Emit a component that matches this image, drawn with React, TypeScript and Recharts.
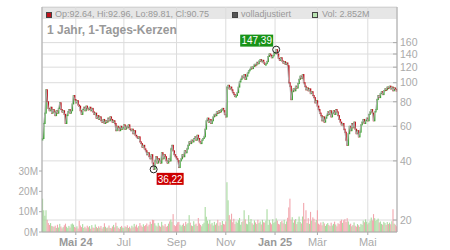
import { ComposedChart, Bar, Line, XAxis, YAxis, CartesianGrid, ReferenceDot } from "recharts";

// daily closes (EUR)
const closes = [
  52, 62, 70, 92, 80, 74, 72, 75, 70, 73,
  71, 68, 72, 70, 74, 79, 73, 71, 72, 69,
  62, 68, 71, 73, 70, 72, 78, 86, 82, 79,
  81, 77, 76, 72, 69, 73, 75, 72, 76, 74,
  73, 75, 72, 74, 71, 69, 70, 66, 68, 65,
  67, 64, 63, 65, 62, 64, 63, 66, 64, 67,
  65, 63, 64, 62, 57, 60, 59, 57, 60, 58,
  59, 61, 58, 60, 59, 61, 58, 57, 58, 55,
  57, 54, 53, 52, 53, 50, 49, 47, 48, 46,
  45, 43, 44, 42, 41, 43, 39, 36.22, 40, 42,
  39, 41, 40, 39, 44, 41, 43, 42, 40, 39,
  41, 40, 46, 48, 45, 43, 42, 41, 40, 37,
  40, 41, 43, 42, 45, 44, 46, 48, 50, 49,
  51, 50, 52, 53, 51, 54, 52, 50, 49, 51,
  52, 53, 58, 64, 66, 63, 65, 62, 64, 67,
  69, 68, 71, 70, 72, 71, 73, 74, 72, 69,
  67, 95, 97, 93, 95, 92, 89, 87, 85, 86,
  89, 95, 101, 104, 108, 106, 110, 104, 108, 112,
  115, 117, 120, 118, 121, 124, 123, 127, 125, 129,
  131, 128, 130, 126, 124, 125, 128, 136, 140, 138,
  134, 137, 141, 143, 147.39, 140, 133, 130, 134, 129,
  126, 128, 124, 126, 122, 100, 96, 82, 90, 93,
  91, 96, 94, 99, 104, 108, 105, 110, 100, 96,
  92, 94, 91, 93, 88, 90, 86, 84, 79, 81,
  76, 73, 70, 68, 64, 67, 63, 66, 68, 71,
  69, 72, 67, 70, 72, 69, 73, 71, 68, 65,
  63, 61, 62, 58, 56, 51, 48, 55, 60, 57,
  62, 59, 63, 58, 55, 57, 53, 56, 61, 63,
  65, 62, 64, 66, 64, 69, 71, 73, 70, 64,
  71, 73, 82, 86, 84, 88, 90, 87, 91, 93,
  92, 95, 94, 96, 93, 95, 91, 94, 92.64, 90.75,
];

// daily volume in millions
const volumes = [
  16.4, 10.7, 8.0, 10.7, 6.0, 4.4, 3.5, 4.4, 3.0, 2.8,
  2.5, 3.1, 2.0, 3.6, 2.2, 4.0, 2.7, 1.8, 2.4, 3.3,
  4.1, 2.6, 1.9, 3.0, 2.2, 3.8, 4.2, 3.6, 2.5, 2.1,
  2.8, 1.7, 5.5, 3.2, 2.4, 3.9, 2.0, 2.6, 1.8, 3.1,
  2.3, 2.9, 1.6, 3.4, 2.2, 2.0, 3.7, 2.5, 1.9, 2.8,
  2.1, 3.0, 1.7, 2.4, 4.3, 2.6, 1.9, 2.2, 3.2, 2.0,
  1.8, 2.7, 3.5, 2.3, 4.6, 2.9, 2.1, 1.6, 2.5, 3.0,
  2.2, 1.9, 2.8, 2.4, 3.3, 2.0, 2.6, 1.8, 3.1, 2.3,
  4.0, 2.7, 3.6, 2.2, 2.9, 4.4, 3.2, 2.5, 3.8, 2.9,
  3.4, 4.2, 2.8, 3.6, 5.1, 4.0, 6.0, 5.9, 4.3, 3.2,
  2.7, 4.5, 3.1, 2.6, 5.0, 3.3, 2.8, 3.9, 2.5, 3.0,
  4.1, 5.2, 6.1, 5.0, 8.8, 3.4, 2.9, 3.7, 4.8, 5.0,
  3.6, 2.8, 3.5, 4.2, 3.0, 5.0, 3.8, 4.4, 8.3, 4.6,
  3.2, 2.9, 5.3, 3.6, 4.1, 3.0, 6.9, 4.2, 3.5, 2.8,
  3.9, 4.6, 12.3, 7.5, 5.6, 4.1, 5.9, 3.8, 4.5, 3.2,
  5.0, 3.6, 4.3, 6.0, 3.1, 4.8, 3.4, 5.4, 4.0, 3.7,
  5.2, 24.5, 15.6, 8.3, 6.1, 9.0, 4.8, 6.5, 3.9, 5.2,
  4.5, 5.8, 6.9, 3.6, 4.9, 5.3, 10.7, 6.2, 4.1, 3.8,
  8.3, 5.0, 6.4, 4.3, 3.6, 5.7, 4.7, 3.9, 6.0, 4.4,
  5.2, 3.7, 6.0, 4.8, 4.6, 5.6, 11.2, 3.5, 5.9, 4.6,
  3.8, 6.3, 4.5, 5.1, 6.7, 5.6, 4.0, 3.7, 4.9, 5.5,
  4.3, 6.0, 3.9, 5.2, 7.0, 12.1, 16.4, 6.0, 7.3, 4.6,
  5.8, 6.4, 3.9, 5.1, 7.6, 5.0, 4.2, 7.6, 14.3, 6.2,
  10.7, 4.4, 6.8, 4.0, 9.9, 5.6, 7.2, 6.5, 4.8, 5.9,
  10.7, 4.1, 3.6, 4.7, 3.3, 5.0, 4.2, 3.0, 3.8, 4.4,
  3.5, 2.9, 4.6, 3.2, 4.0, 5.1, 3.7, 2.8, 4.3, 3.9,
  5.4, 6.1, 4.5, 5.8, 6.3, 4.9, 6.8, 5.2, 3.6, 4.1,
  2.8, 3.4, 4.7, 3.1, 2.6, 3.9, 3.3, 2.5, 4.0, 3.5,
  5.6, 4.8, 6.2, 5.1, 3.8, 4.6, 5.5, 7.1, 5.7, 8.8,
  6.8, 5.5, 5.9, 6.6, 4.7, 5.2, 4.0, 3.6, 5.0, 4.4,
  3.5, 4.9, 3.9, 4.6, 3.8, 5.3, 11.2, 4.1, 3.6, 2.852,
];

const monthTickIdx = [29, 71, 117, 160, 203, 240, 284];
const monthLabels = ["Mai 24", "Jul", "Sep", "Nov", "Jan 25", "Mär", "Mai"];
const yearLabels = ["Mai 24", "Jan 25"];
const priceTicks = [20, 40, 60, 80, 100, 120, 140, 160];
const volTicks = [0, 10, 20, 30];

const GREEN = "#3fa535";
const RED = "#c0121c";
const VOL_UP = "#a9dba0";
const VOL_DOWN = "#f2a6ad";
const AXIS = "#aaa";
const FONT = "'Liberation Sans', Arial, sans-serif";

const data = closes.map((c, i) => {
  const o = i === 0 ? c : closes[i - 1];
  return { i, close: c, body: [Math.min(o, c), Math.max(o, c)], up: c >= o, vol: volumes[i] };
});

const hiIdx = closes.indexOf(Math.max(...closes));
const loIdx = closes.indexOf(Math.min(...closes));
const fmt = (v: number) => v.toFixed(2).replace(".", ",");

const Candle = (p: any) => {
  const { x, width, y, height, payload } = p;
  const top = height < 0 ? y + height : y;
  const h = Math.max(Math.abs(height), 1.5);
  return <rect x={x + width / 2 - 0.75} y={top - 0.5} width={1.5} height={h + 1} fill={payload.up ? GREEN : RED} />;
};

const VolBar = (p: any) => {
  const { x, width, y, height, payload } = p;
  return <rect x={x + width / 2 - 0.55} y={y} width={1.1} height={Math.max(height, 0)} fill={payload.up ? VOL_UP : VOL_DOWN} />;
};

const MonthTick = (p: any) => {
  const { x, y, payload } = p;
  const label = monthLabels[monthTickIdx.indexOf(payload.value)];
  const bold = yearLabels.includes(label);
  return (
    <g>
      <line x1={x} x2={x} y1={y} y2={y + 3} stroke={AXIS} />
      <text x={x} y={y + 14} textAnchor="middle" fontSize={11} fontWeight={bold ? 700 : 400}
        fill={bold ? "#999" : "#aaa"} fontFamily={FONT}>{label}</text>
    </g>
  );
};

const PriceTick = (p: any) => {
  const { x, y, payload } = p;
  return (
    <g>
      <line x1={x - 7} x2={x - 3} y1={y} y2={y} stroke={AXIS} />
      <text x={x} y={y} dy="0.36em" textAnchor="start" fontSize={10.5} fill={AXIS} fontFamily={FONT}>{payload.value}</text>
    </g>
  );
};

const VolTick = (p: any) => {
  const { x, y, payload } = p;
  return (
    <g>
      <line x1={x + 1} x2={x + 4} y1={y} y2={y} stroke={AXIS} />
      <text x={x} y={y} dy="0.36em" textAnchor="end" fontSize={10} fill={AXIS} fontFamily={FONT}>{payload.value}M</text>
    </g>
  );
};

const HiMark = (p: any) => {
  const { cx, cy } = p;
  const t = fmt(closes[hiIdx]);
  return (
    <g>
      <circle cx={cx} cy={cy} r={3.5} fill="none" stroke="#222" />
      <rect x={cx - 36} y={cy - 15} width={33} height={12} fill="#189318" />
      <text x={cx - 19.5} y={cy - 5.3} textAnchor="middle" fontSize={10} fill="#fff" fontFamily={FONT}>{t}</text>
    </g>
  );
};

const LoMark = (p: any) => {
  const { cx, cy } = p;
  const t = fmt(closes[loIdx]);
  return (
    <g>
      <circle cx={cx} cy={cy} r={3.5} fill="none" stroke="#222" />
      <rect x={cx + 3} y={cy + 3.5} width={27} height={12} fill="#cc0000" />
      <text x={cx + 16.5} y={cy + 13.2} textAnchor="middle" fontSize={10} fill="#fff" fontFamily={FONT}>{t}</text>
    </g>
  );
};

const sq = (left: number, color: string) => (
  <div style={{ position: "absolute", left, top: 12, width: 4, height: 4, background: color, border: "1px solid #444" }} />
);
const lbl = (left: number, text: string) => (
  <div style={{ position: "absolute", left, top: 9.7, fontSize: 9, lineHeight: "9px", color: "#999", whiteSpace: "nowrap" }}>{text}</div>
);

export default function App() {
  const last = data[data.length - 1];
  return (
    <div style={{ position: "absolute", left: 0, top: 0, width: 450, height: 250, background: "#fff", fontFamily: FONT }}>
      <div style={{ position: "absolute", left: 42, top: 7, width: 355, height: 12, background: "#e6e6e6", borderTop: "1px solid #ccc", boxSizing: "border-box" }} />
      <div style={{ position: "absolute", left: 0, top: 0 }}>
        <ComposedChart width={450} height={250} data={data} margin={{ top: 7, right: 0, bottom: 0, left: 0 }}>
          <CartesianGrid xAxisId="main" yAxisId="price" stroke="#dcdcdc" />
          <XAxis xAxisId="main" dataKey="i" ticks={monthTickIdx} interval={0} height={18}
            tick={<MonthTick />} tickSize={0} tickMargin={0} tickLine={false} axisLine={{ stroke: AXIS }} />
          <XAxis xAxisId="vol" dataKey="i" orientation="top" height={0} hide />
          <YAxis yAxisId="vol" orientation="left" width={42} domain={[0, 110.7]} ticks={volTicks} interval={0}
            tick={<VolTick />} tickSize={0} tickMargin={4} tickLine={false} axisLine={{ stroke: AXIS }} />
          <YAxis yAxisId="price" orientation="right" width={53} scale="log" domain={[17.38, 242.9]}
            allowDataOverflow ticks={priceTicks} interval={0} tick={<PriceTick />} tickSize={0} tickMargin={3}
            tickLine={false} axisLine={{ stroke: AXIS }} />
          <Bar xAxisId="vol" yAxisId="vol" dataKey="vol" shape={<VolBar />} isAnimationActive={false} />
          <Line xAxisId="main" yAxisId="price" dataKey="close" stroke="#b0b0b0" strokeWidth={1} dot={false} isAnimationActive={false} />
          <Bar xAxisId="main" yAxisId="price" dataKey="body" shape={<Candle />} isAnimationActive={false} />
          <ReferenceDot xAxisId="main" yAxisId="price" x={hiIdx} y={closes[hiIdx]} shape={<HiMark />} />
          <ReferenceDot xAxisId="main" yAxisId="price" x={loIdx} y={closes[loIdx]} shape={<LoMark />} />
        </ComposedChart>
      </div>
      {sq(46, RED)}
      {lbl(55, `Op:${closes[closes.length - 2]}, Hi:92.96, Lo:89.81, Cl:${last.close}`)}
      {sq(232, "#555")}
      {lbl(241, "volladjustiert")}
      {sq(312, "#b8e2b0")}
      {lbl(322, `Vol: ${last.vol}M`)}
      <div style={{ position: "absolute", left: 47, top: 24, fontSize: 12, lineHeight: "12px", fontWeight: 700, color: "#999", whiteSpace: "nowrap" }}>
        1 Jahr, 1-Tages-Kerzen
      </div>
    </div>
  );
}
